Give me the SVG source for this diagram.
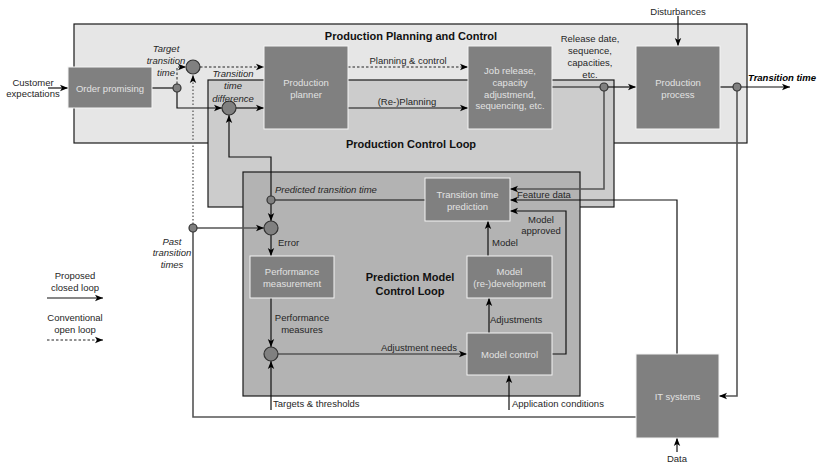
<svg xmlns="http://www.w3.org/2000/svg" width="820" height="465" viewBox="0 0 820 465">
  <style>
    text { font-family: "Liberation Sans", Arial, sans-serif; font-size: 9.5px; fill: #262626; }
    .c { text-anchor: middle; }
    .e { text-anchor: end; }
    .it { font-style: italic; }
    .title { font-size: 11px; font-weight: bold; fill: #111; text-anchor: middle; }
    .nodetext { fill: #e2e2e2; text-anchor: middle; }
    .node { fill: #808080; stroke: #f4f4f4; stroke-width: 1; }
    .grp { stroke: #1a1a1a; stroke-width: 1.2; }
    .ln { fill: none; stroke: #111; stroke-width: 1.2; }
    .fb { fill: none; stroke: #555; stroke-width: 1.6; }
    .dash { fill: none; stroke: #222; stroke-width: 1; stroke-dasharray: 2.5 2; }
    .dot { fill: none; stroke: #777; stroke-width: 1.6; stroke-dasharray: 1.5 2; }
    .junc { fill: #808080; stroke: #333; stroke-width: 1.2; }
  </style>
  <defs>
    <marker id="arr" viewBox="0 0 8 8" refX="8" refY="4" markerWidth="8" markerHeight="8" markerUnits="userSpaceOnUse" orient="auto">
      <path d="M0,0.8 L8,4 L0,7.2 L2,4 Z" fill="#000"/>
    </marker>
  </defs>

  <!-- loop frames -->
  <g id="frame-ppc">
    <rect x="74" y="24" width="673" height="119" fill="#e6e6e6" class="grp"/>
  </g>
  <g id="frame-pcl">
    <rect x="208" y="80" width="406" height="127" fill="#cccccc" class="grp"/>
  </g>
  <g id="frame-pmcl">
    <rect x="243" y="172" width="337" height="224" fill="#b3b3b3" class="grp"/>
  </g>

  <!-- titles -->
  <text class="title" x="411" y="40">Production Planning and Control</text>
  <text class="title" x="411" y="148">Production Control Loop</text>
  <text class="title" x="410" y="281">Prediction Model</text>
  <text class="title" x="410" y="295">Control Loop</text>

  <!-- connectors -->
  <g id="connectors">
    <!-- input side -->
    <path class="ln" d="M48,88 H68" marker-end="url(#arr)"/>
    <path class="ln" d="M152,88 H173"/>
    <path class="ln" d="M177,92 V108 H222" marker-end="url(#arr)"/>
    <path class="dash" d="M177,84 V67 H186" marker-end="url(#arr)"/>
    <path class="dash" d="M200,67 H264" marker-end="url(#arr)"/>
    <path class="ln" d="M236,108 H264" marker-end="url(#arr)"/>
    <path class="dot" d="M193,224 V75" marker-end="url(#arr)"/>
    <path class="ln" d="M271,196 V157 H229 V115" marker-end="url(#arr)"/>

    <!-- planning -->
    <path class="dash" d="M348,67 H468" marker-end="url(#arr)"/>
    <path class="ln" d="M348,108 H468" marker-end="url(#arr)"/>
    <path class="ln" d="M552,87 H600"/>
    <path class="ln" d="M608,87 H636" marker-end="url(#arr)"/>
    <path class="ln" d="M678,16 V46" marker-end="url(#arr)"/>
    <path class="ln" d="M720,87 H733"/>
    <path class="ln" d="M741,87 H790" marker-end="url(#arr)"/>

    <!-- feedback from production -->
    <path class="fb" d="M604,91 V189 H510" marker-end="url(#arr)"/>
    <path class="fb" d="M737,91 V396 H719" marker-end="url(#arr)"/>
    <path class="ln" d="M677,354 V200 H510" marker-end="url(#arr)"/>
    <path class="fb" d="M636,417 H193 V232"/>
    <path class="fb" d="M197,228 H264" marker-end="url(#arr)"/>

    <!-- prediction model loop -->
    <path class="ln" d="M425,200 H275"/>
    <path class="ln" d="M271,204 V221" marker-end="url(#arr)"/>
    <path class="ln" d="M271,235 V256" marker-end="url(#arr)"/>
    <path class="ln" d="M271,298 V347" marker-end="url(#arr)"/>
    <path class="ln" d="M271,410 V361" marker-end="url(#arr)"/>
    <path class="fb" d="M278,354 H467" marker-end="url(#arr)"/>
    <path class="ln" d="M509,410 V375" marker-end="url(#arr)"/>
    <path class="ln" d="M489,333 V298" marker-end="url(#arr)"/>
    <path class="ln" d="M488,256 V221" marker-end="url(#arr)"/>
    <path class="ln" d="M552,354 H566 V211 H510" marker-end="url(#arr)"/>
    <path class="ln" d="M677,452 V438" marker-end="url(#arr)"/>

    <!-- legend -->
    <path class="ln" d="M47,298 H103" marker-end="url(#arr)"/>
    <path class="dash" d="M47,340 H103" marker-end="url(#arr)"/>
  </g>

  <!-- junctions -->
  <g id="junctions">
    <circle class="junc" cx="193" cy="67" r="7"/>
    <circle class="junc" cx="229" cy="108" r="7"/>
    <circle class="junc" cx="177" cy="88" r="4"/>
    <circle class="junc" cx="604" cy="87" r="4"/>
    <circle class="junc" cx="737" cy="87" r="4"/>
    <circle class="junc" cx="271" cy="200" r="4"/>
    <circle class="junc" cx="271" cy="228" r="7"/>
    <circle class="junc" cx="193" cy="228" r="4"/>
    <circle class="junc" cx="271" cy="354" r="7"/>
  </g>

  <!-- nodes -->
  <g id="order-promising">
    <rect class="node" x="68" y="67" width="84" height="41"/>
    <text class="nodetext" x="110" y="91.5">Order promising</text>
  </g>
  <g id="production-planner">
    <rect class="node" x="264" y="46" width="84" height="83"/>
    <text class="nodetext" x="306" y="85.5">Production</text>
    <text class="nodetext" x="306" y="97.5">planner</text>
  </g>
  <g id="job-release">
    <rect class="node" x="468" y="46" width="84" height="83"/>
    <text class="nodetext" x="510" y="73.5">Job release,</text>
    <text class="nodetext" x="510" y="85.5">capacity</text>
    <text class="nodetext" x="510" y="97.5">adjustmend,</text>
    <text class="nodetext" x="510" y="109">sequencing, etc.</text>
  </g>
  <g id="production-process">
    <rect class="node" x="636" y="46" width="84" height="83"/>
    <text class="nodetext" x="678" y="85.5">Production</text>
    <text class="nodetext" x="678" y="97.5">process</text>
  </g>
  <g id="transition-time-prediction">
    <rect class="node" x="425" y="178" width="85" height="43"/>
    <text class="nodetext" x="467.5" y="197.5">Transition time</text>
    <text class="nodetext" x="467.5" y="209.5">prediction</text>
  </g>
  <g id="model-development">
    <rect class="node" x="467" y="256" width="85" height="42"/>
    <text class="nodetext" x="509.5" y="274.5">Model</text>
    <text class="nodetext" x="509.5" y="286.5">(re-)development</text>
  </g>
  <g id="performance-measurement">
    <rect class="node" x="250" y="256" width="84" height="42"/>
    <text class="nodetext" x="292" y="274.5">Performance</text>
    <text class="nodetext" x="292" y="286.5">measurement</text>
  </g>
  <g id="model-control">
    <rect class="node" x="467" y="333" width="85" height="42"/>
    <text class="nodetext" x="509.5" y="357.5">Model control</text>
  </g>
  <g id="it-systems">
    <rect class="node" x="636" y="354" width="83" height="84"/>
    <text class="nodetext" x="677.5" y="399.5">IT systems</text>
  </g>

  <!-- connector labels -->
  <g id="labels">
    <text class="c" x="33" y="85.5">Customer</text>
    <text class="c" x="33" y="97">expectations</text>
    <text class="c it" x="166" y="51.5">Target</text>
    <text class="c it" x="166" y="63.5">transition</text>
    <text class="c it" x="166" y="75.5">time</text>
    <text class="c it" x="233" y="76.5">Transition</text>
    <text class="c it" x="233" y="89">time</text>
    <text class="c it" x="233" y="101.5">difference</text>
    <text class="c" x="408" y="63.5">Planning &amp; control</text>
    <text class="c" x="407" y="104.5">(Re-)Planning</text>
    <text class="c" x="590" y="41.5">Release date,</text>
    <text class="c" x="590" y="53.5">sequence,</text>
    <text class="c" x="590" y="65.5">capacities,</text>
    <text class="c" x="590" y="77.5">etc.</text>
    <text class="c" x="678" y="14.5">Disturbances</text>
    <text class="it" x="748" y="80.5" style="font-weight:bold;fill:#000">Transition time</text>
    <text class="it" x="275" y="192.5">Predicted transition time</text>
    <text x="517" y="197.5">Feature data</text>
    <text class="c" x="541" y="222.5">Model</text>
    <text class="c" x="541" y="233.5">approved</text>
    <text x="492" y="245.5">Model</text>
    <text x="278" y="245.5">Error</text>
    <text class="c" x="302" y="320.5">Performance</text>
    <text class="c" x="302" y="332.5">measures</text>
    <text class="e" x="457" y="350.5">Adjustment needs</text>
    <text x="490" y="322.5">Adjustments</text>
    <text x="273" y="406.5">Targets &amp; thresholds</text>
    <text x="512" y="406.5">Application conditions</text>
    <text class="c it" x="172" y="244.5">Past</text>
    <text class="c it" x="172" y="256">transition</text>
    <text class="c it" x="172" y="267.5">times</text>
    <text class="c" x="677" y="461.5">Data</text>
  </g>

  <!-- legend -->
  <g id="legend">
    <text class="c" x="75" y="278.5">Proposed</text>
    <text class="c" x="75" y="290.5">closed loop</text>
    <text class="c" x="75" y="320.5">Conventional</text>
    <text class="c" x="75" y="332.5">open loop</text>
  </g>
</svg>
